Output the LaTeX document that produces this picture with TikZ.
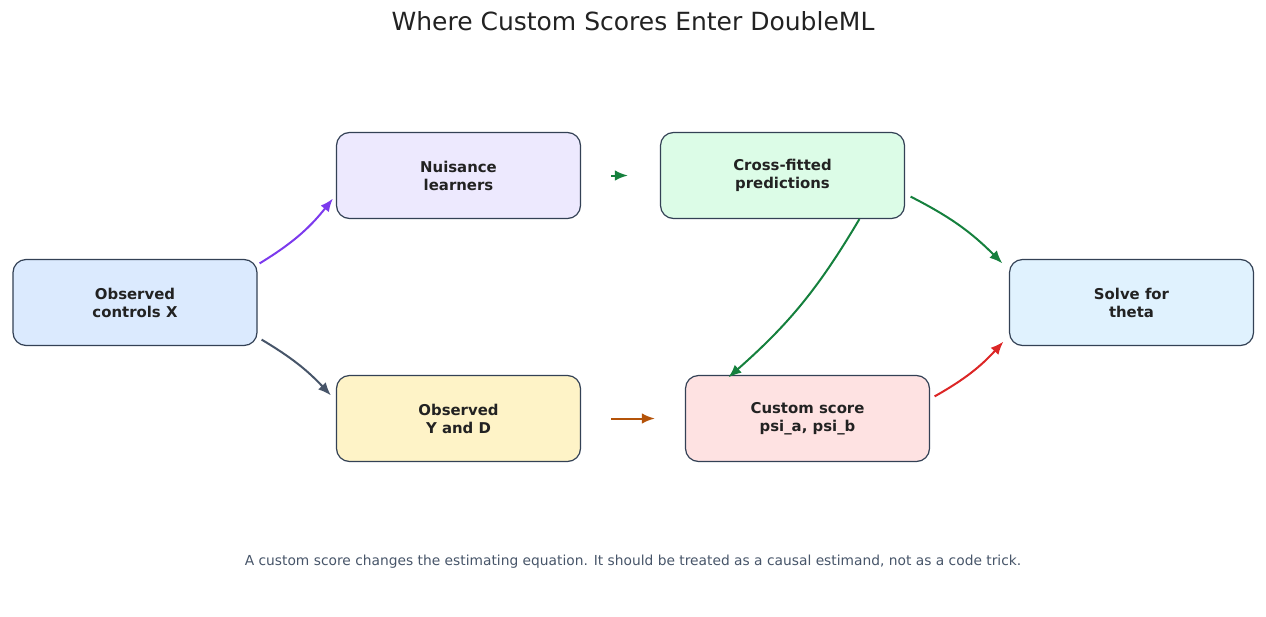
\documentclass[tikz,border=0pt]{standalone}
\usepackage{fontspec}
\setmainfont{DejaVu Sans}
\usetikzlibrary{arrows.meta,calc}
\definecolor{edge}{HTML}{334155}
\definecolor{txt}{HTML}{222222}
\definecolor{capt}{HTML}{475569}
\definecolor{fX}{HTML}{DBEAFE}
\definecolor{fN}{HTML}{EDE9FE}
\definecolor{fC}{HTML}{DCFCE7}
\definecolor{fS}{HTML}{E0F2FE}
\definecolor{fY}{HTML}{FEF3C7}
\definecolor{fP}{HTML}{FEE2E2}
\definecolor{cpurple}{HTML}{7C3AED}
\definecolor{cslate}{HTML}{475569}
\definecolor{cgreen}{HTML}{15803D}
\definecolor{corange}{HTML}{B45309}
\definecolor{cred}{HTML}{DC2626}
\tikzset{
  box/.style={draw=edge, line width=1.2pt, rounded corners=13pt, minimum width=244pt, minimum height=86pt,
    align=center, inner sep=0pt, text=txt, font=\fontsize{14.9}{18}\selectfont\bfseries},
  conn/.style={line width=2pt, -{Latex[length=13pt,width=10.5pt]}},
}
\begin{document}
\begin{tikzpicture}[x=1pt,y=-1pt]
\useasboundingbox (0,0) rectangle (1266,616);
\node[font=\fontsize{25}{29}\selectfont, text=txt] (title) at (633,21) {Where Custom Scores Enter DoubleML};
\node[box, fill=fX] (x) at (135,302.5) {Observed\\controls X};
\node[box, fill=fN] (n) at (458.5,175.5) {Nuisance\\learners};
\node[box, fill=fC] (c) at (782.5,175.5) {Cross-fitted\\predictions};
\node[box, fill=fS] (s) at (1131.5,302.5) {Solve for\\theta};
\node[box, fill=fY] (y) at (458.5,418.5) {Observed\\Y and D};
\node[box, fill=fP] (p) at (807.5,418.5) {Custom score\\psi\_a, psi\_b};
\node[font=\fontsize{13.8}{16}\selectfont, text=capt] (cap) at (633,562) {A custom score changes the estimating equation. It should be treated as a causal estimand, not as a code trick.};
\draw[conn, cpurple] ([shift={(2,4.5)}]x.north east) to[bend right=10] ([shift={(-3,-20.5)}]n.south west);
\draw[conn, cslate] ([shift={(4,-6.5)}]x.south east) to[bend left=8] ([shift={(-5,20.5)}]y.north west);
\draw[conn, cgreen] ([shift={(30,0)}]n.east) -- ([shift={(-32,0)}]c.west);
\draw[conn, corange] ([shift={(30,0)}]y.east) -- ([shift={(-30,0)}]p.west);
\draw[conn, cgreen] ([shift={(199.5,0)}]c.south west) to[bend left=9] ([shift={(43.5,2.5)}]p.north west);
\draw[conn, cgreen] ([shift={(5.5,-22.5)}]c.south east) to[bend left=9] ([shift={(-6.5,4.5)}]s.north west);
\draw[conn, cred] ([shift={(4.5,21.5)}]p.north east) to[bend right=9] ([shift={(-5.5,-4.5)}]s.south west);
\end{tikzpicture}
\end{document}
